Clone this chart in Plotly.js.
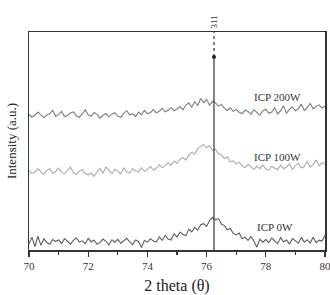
<!DOCTYPE html>
<html>
<head>
<meta charset="utf-8">
<script src="https://cdn.plot.ly/plotly-3.0.1.min.js"></script>
<style>html,body{margin:0;padding:0;background:#fff;}#chart{width:330px;height:295px;}</style>
</head>
<body>
<div id="chart"></div>
<script>
// 2-theta scan positions (degrees)
const twoTheta = [
  70.0,70.1,70.2,70.3,70.4,70.5,70.6,70.7,70.8,70.9,
  71.0,71.1,71.2,71.3,71.4,71.5,71.6,71.7,71.8,71.9,
  72.0,72.1,72.2,72.3,72.4,72.5,72.6,72.7,72.8,72.9,
  73.0,73.1,73.2,73.3,73.4,73.5,73.6,73.7,73.8,73.9,
  74.0,74.1,74.2,74.3,74.4,74.5,74.6,74.7,74.8,74.9,
  75.0,75.1,75.2,75.3,75.4,75.5,75.6,75.7,75.8,75.9,
  76.0,76.1,76.2,76.3,76.4,76.5,76.6,76.7,76.8,76.9,
  77.0,77.1,77.2,77.3,77.4,77.5,77.6,77.7,77.8,77.9,
  78.0,78.1,78.2,78.3,78.4,78.5,78.6,78.7,78.8,78.9,
  79.0,79.1,79.2,79.3,79.4,79.5,79.6,79.7,79.8,79.9,
  80.0
];

// Stacked intensities (a.u.), each pattern already offset for display
const icp200W = [
  62.2,61.0,61.8,63.3,62.0,60.8,61.9,62.5,64.0,61.4,
  62.1,63.6,61.2,61.7,62.9,63.4,61.5,60.9,62.4,64.3,
  62.0,61.3,63.1,62.2,60.5,61.8,62.6,61.1,62.3,63.0,
  61.4,60.9,62.7,63.9,62.0,62.5,61.2,63.3,62.1,64.0,
  62.6,63.0,64.4,62.9,63.6,65.0,63.4,64.1,65.3,63.9,
  64.6,65.8,64.3,66.5,67.4,65.6,68.0,66.3,69.5,67.6,
  69.1,66.4,68.2,67.5,66.0,66.8,65.1,64.0,65.2,63.6,
  64.5,63.2,62.6,64.1,63.5,62.3,64.4,63.0,61.9,63.8,
  64.6,62.7,63.3,65.2,62.4,63.9,66.1,62.8,64.5,65.6,
  63.9,64.8,66.9,64.0,65.3,67.2,64.7,65.9,66.6,65.1,
  66.0
];
const icp100W = [
  36.3,35.1,35.8,37.2,35.9,34.8,36.4,37.3,35.2,36.0,
  37.5,35.6,35.0,36.5,38.0,35.4,34.7,36.2,36.9,35.1,
  34.5,35.3,33.8,36.0,37.4,35.2,38.1,36.6,35.0,37.0,
  36.2,34.9,37.6,36.0,35.3,37.4,36.3,35.7,37.8,36.1,
  36.9,38.3,36.7,37.5,39.1,37.8,38.6,40.0,38.9,40.7,
  39.8,41.5,42.3,41.2,43.6,44.8,44.0,46.5,47.3,48.4,
  46.9,47.8,45.6,46.2,44.1,43.5,42.0,42.8,40.5,40.9,
  39.4,40.3,38.6,37.8,39.2,38.0,36.9,38.5,37.3,38.9,
  37.1,36.6,38.4,37.5,36.8,39.0,37.3,38.1,39.5,36.9,
  38.7,39.9,37.6,38.3,40.6,38.0,39.2,41.3,38.6,40.0,
  39.3
];
const icp0W = [
  2.8,5.9,1.6,6.3,2.2,5.1,3.4,2.6,4.8,3.9,
  4.6,3.0,5.2,4.1,2.7,4.4,5.6,3.6,4.2,2.9,
  5.3,3.8,4.5,2.6,3.5,5.0,4.0,2.3,4.7,3.6,
  4.9,3.1,4.3,5.4,3.7,2.5,4.6,3.9,1.1,4.4,
  3.5,5.2,4.1,3.6,6.0,4.4,6.7,5.0,4.6,7.5,
  5.9,8.2,7.1,6.6,9.6,8.3,10.4,9.1,11.6,12.1,
  10.8,13.5,15.0,13.8,14.4,11.9,11.2,9.3,9.9,7.6,
  6.9,7.8,5.2,5.9,4.4,6.2,4.0,1.3,4.9,3.6,
  4.8,3.4,5.5,4.1,2.9,5.7,3.8,4.6,2.8,5.2,
  4.0,3.1,5.8,3.6,4.7,3.2,5.9,3.4,4.5,4.1,
  6.8
];

// Reference reflection (311)
const peak311 = 76.25;
const refSolid = [0, 88.5];
const refDashed = [88.5, 100];

const seriesLabels = ["ICP 200W", "ICP 100W", "ICP 0W"];
const labelX = [78.4, 78.4, 78.3];
const labelY = [70.2, 42.7, 10.5];
const xTicks = [70, 72, 74, 76, 78, 80];

const serif = "Liberation Serif";

const traces = [
  {x: twoTheta, y: icp200W, mode: "lines", line: {color: "#7c7c7c", width: 1.1}},
  {x: twoTheta, y: icp100W, mode: "lines", line: {color: "#ababab", width: 1.1}},
  {x: twoTheta, y: icp0W, mode: "lines", line: {color: "#5c5c5c", width: 1.1}},
  {x: [peak311, peak311], y: refSolid, mode: "lines", line: {color: "#333", width: 1.2}},
  {x: [peak311, peak311], y: refDashed, mode: "lines", line: {color: "#333", width: 1.2, dash: "dot"}},
  {x: [peak311], y: [refSolid[1]], mode: "markers", marker: {color: "#222", size: 4}}
];

const annotations = seriesLabels.map((t, i) => ({
  x: labelX[i], y: labelY[i], text: t, showarrow: false,
  font: {family: serif, size: 11, color: "#333"}
}));
annotations.push({
  x: peak311, xref: "x", y: 1.083, yref: "paper", text: "311", textangle: -90,
  showarrow: false, font: {family: serif, size: 9, color: "#333"}
});

const layout = {
  width: 330, height: 295,
  margin: {l: 29, r: 5, t: 32, b: 45},
  showlegend: false,
  paper_bgcolor: "#fff", plot_bgcolor: "#fff",
  font: {family: serif, color: "#333"},
  xaxis: {
    range: [70, 80], tickvals: xTicks, ticktext: xTicks.map(String),
    ticklabeloverflow: "allow",
    ticks: "outside", ticklen: 5, tickwidth: 1.2, tickcolor: "#333",
    minor: {dtick: 1, tick0: 71, ticks: "outside", ticklen: 3, tickcolor: "#333"},
    showgrid: false, zeroline: false,
    showline: true, linecolor: "#333", linewidth: 1.5, mirror: true,
    tickfont: {family: serif, size: 11, color: "#333"},
    title: {text: "2 theta (θ)", font: {family: serif, size: 16, color: "#222"}, standoff: 12}
  },
  yaxis: {
    range: [0, 100], showticklabels: false, ticks: "",
    showgrid: false, zeroline: false,
    showline: true, linecolor: "#333", linewidth: 1.5, mirror: true,
    title: {text: "Intensity (a.u.)", font: {family: serif, size: 13, color: "#222"}, standoff: 8}
  },
  annotations: annotations
};

Plotly.newPlot("chart", traces, layout, {displayModeBar: false, staticPlot: true});
</script>
</body>
</html>
